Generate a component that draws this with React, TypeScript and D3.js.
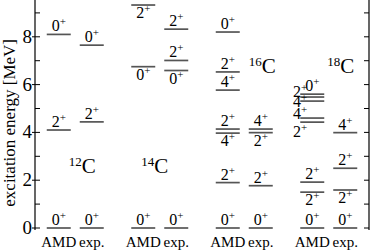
import React, { useEffect, useRef } from 'react';
import * as d3 from 'd3';

// nuclei and columns
const nuclei = ['12C', '14C', '16C', '18C'];
const massNumbers = ['12', '14', '16', '18'];
const columns = ['AMD', 'exp.'];

// levels: energy [MeV], spin label, label position
const amd12 = [0, 4.1, 8.1];
const amd12Spin = ['0', '2', '0'];
const amd12Pos = ['above', 'above', 'above'];
const exp12 = [0, 4.44, 7.65];
const exp12Spin = ['0', '2', '0'];
const exp12Pos = ['above', 'above', 'above'];

const amd14 = [0, 6.75, 9.33];
const amd14Spin = ['0', '0', '2'];
const amd14Pos = ['above', 'below', 'below'];
const exp14 = [0, 6.59, 7.01, 8.32];
const exp14Spin = ['0', '0', '2', '2'];
const exp14Pos = ['above', 'below', 'above', 'above'];

const amd16 = [0, 1.9, 3.97, 4.14, 5.77, 6.53, 8.2];
const amd16Spin = ['0', '2', '4', '2', '4', '2', '0'];
const amd16Pos = ['above', 'above', 'below', 'above', 'above', 'above', 'above'];
const exp16 = [0, 1.77, 3.99, 4.14];
const exp16Spin = ['0', '2', '2', '4'];
const exp16Pos = ['above', 'above', 'below', 'above'];

const amd18 = [0, 1.5, 1.92, 4.43, 4.6, 5.31, 5.48, 5.6];
const amd18Spin = ['0', '2', '2', '2', '4', '4', '2', '0'];
const amd18Pos = ['above', 'below', 'above', 'left', 'left', 'left', 'left', 'above'];
const amd18LabelE = [null, null, null, 3.8, 4.56, 5.06, 5.5, null];
const exp18 = [0, 1.59, 2.5, 3.99];
const exp18Spin = ['0', '2', '2', '4'];
const exp18Pos = ['above', 'below', 'above', 'above'];

// isotope name labels: baseline energy and offset inside the group
const isoLabelE = [2.3, 2.3, 6.5, 6.5];
const isoLabelShift = [7, -5, 18, 12];

const yTicks = [0, 2, 4, 6, 8];
const yMinorTicks = d3.range(0, 10);

const groups = [
  [[amd12, amd12Spin, amd12Pos], [exp12, exp12Spin, exp12Pos]],
  [[amd14, amd14Spin, amd14Pos], [exp14, exp14Spin, exp14Pos]],
  [[amd16, amd16Spin, amd16Pos], [exp16, exp16Spin, exp16Pos]],
  [[amd18, amd18Spin, amd18Pos, amd18LabelE], [exp18, exp18Spin, exp18Pos]],
];

const FONT = 'Liberation Serif, serif';

const App = () => {
  const svgRef = useRef(null);

  useEffect(() => {
    document.body.style.margin = '0';
    const svg = d3.select(svgRef.current);
    svg.selectAll('*').remove();

    const width = 374;
    const height = 250;
    const left = 35;
    const right = 369;
    const bottom = 228;

    svg.attr('width', width).attr('height', height);

    const y = d3.scaleLinear().domain([0, 9.54]).range([bottom, 0]);
    const xGroup = d3.scaleBand().domain(nuclei).range([33, 371]).paddingInner(0).paddingOuter(0);
    const xCol = d3.scalePoint().domain(columns).range([-16.5, 16.5]);
    const halfW = 12;

    const text = (sel) => sel.append('text').attr('font-family', FONT);

    // axes
    svg.append('line').attr('x1', left).attr('x2', left).attr('y1', 0).attr('y2', bottom + 2)
      .attr('stroke', '#000').attr('stroke-width', 1.2);
    svg.append('line').attr('x1', right).attr('x2', right).attr('y1', 0).attr('y2', bottom + 2)
      .attr('stroke', '#000').attr('stroke-width', 1.2);

    svg.append('g').selectAll('line').data(yMinorTicks).join('line')
      .attr('x1', left).attr('x2', left + 5)
      .attr('y1', d => y(d)).attr('y2', d => y(d))
      .attr('stroke', '#000').attr('stroke-width', 1);
    svg.append('g').selectAll('line').data(yMinorTicks).join('line')
      .attr('x1', right - 5).attr('x2', right)
      .attr('y1', d => y(d)).attr('y2', d => y(d))
      .attr('stroke', '#000').attr('stroke-width', 1);
    svg.append('g').selectAll('line').data(yTicks).join('line')
      .attr('x1', left - 3).attr('x2', left)
      .attr('y1', d => y(d)).attr('y2', d => y(d))
      .attr('stroke', '#000').attr('stroke-width', 1);

    svg.append('g').selectAll('text').data(yTicks).join('text')
      .attr('font-family', FONT)
      .attr('x', left - 3).attr('y', d => y(d) + 6)
      .attr('text-anchor', 'end').attr('font-size', 19)
      .text(d => d);

    text(svg)
      .attr('transform', `translate(15, ${y(4.4)}) rotate(-90)`)
      .attr('text-anchor', 'middle').attr('font-size', 17)
      .text('excitation energy [MeV]');

    // column labels
    nuclei.forEach((n) => {
      columns.forEach((c) => {
        text(svg)
          .attr('x', xGroup(n) + xGroup.bandwidth() / 2 + xCol(c))
          .attr('y', 247)
          .attr('text-anchor', 'middle').attr('font-size', 15)
          .text(c);
      });
    });

    // isotope labels
    nuclei.forEach((n, i) => {
      const t = text(svg)
        .attr('x', xGroup(n) + xGroup.bandwidth() / 2 + isoLabelShift[i])
        .attr('y', y(isoLabelE[i]))
        .attr('text-anchor', 'middle').attr('font-size', 21);
      t.append('tspan').attr('font-size', 13).attr('dy', -7).text(massNumbers[i]);
      t.append('tspan').attr('dy', 7).text('C');
    });

    // levels
    const spinLabel = (g, x, yy, anchor, spin) => {
      const t = text(g).attr('x', x).attr('y', yy)
        .attr('text-anchor', anchor).attr('font-size', 16);
      t.append('tspan').text(spin);
      t.append('tspan').attr('font-size', 11).attr('dy', -6).text('+');
    };

    groups.forEach((grp, gi) => {
      const cx0 = xGroup(nuclei[gi]) + xGroup.bandwidth() / 2;
      grp.forEach(([energies, spins, pos, labelE], ci) => {
        const cx = cx0 + xCol(columns[ci]);
        const g = svg.append('g');
        g.selectAll('line').data(energies).join('line')
          .attr('x1', cx - halfW).attr('x2', cx + halfW)
          .attr('y1', d => y(d)).attr('y2', d => y(d))
          .attr('stroke', '#555').attr('stroke-width', 1.7);
        energies.forEach((e, k) => {
          if (pos[k] === 'above') spinLabel(g, cx, y(e) - 3, 'middle', spins[k]);
          else if (pos[k] === 'below') spinLabel(g, cx, y(e) + 13, 'middle', spins[k]);
          else spinLabel(g, cx - halfW + 7, y(labelE[k]), 'end', spins[k]);
        });
      });
    });
  }, []);

  return <svg ref={svgRef} style={{ display: 'block' }}></svg>;
};

export default App;
